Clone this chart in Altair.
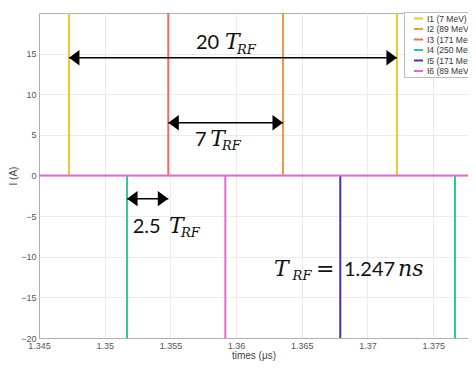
import altair as alt
import pandas as pd

# ---- data -------------------------------------------------------------
series_names = ["I1 (7 MeV)", "I2 (89 MeV)", "I3 (171 MeV)",
                "I4 (250 MeV)", "I5 (171 MeV)", "I6 (89 MeV)"]
series_colors = ["#EDC72F", "#EE9A45", "#E8705A", "#2FC6A2", "#4A2CC0", "#E867D8"]

spike_series = ["I1 (7 MeV)", "I3 (171 MeV)", "I2 (89 MeV)", "I1 (7 MeV)",
                "I4 (250 MeV)", "I6 (89 MeV)", "I5 (171 MeV)", "I4 (250 MeV)"]
spike_times = [1.34728, 1.35484, 1.36357, 1.37224, 1.35170, 1.35918, 1.36793, 1.37666]
spike_peaks = [20, 20, 20, 20, -20, -20, -20, -20]

baseline_series = ["I6 (89 MeV)"]
baseline_level = [0]

x_domain = [1.345, 1.37765]
y_domain = [-20, 20]
x_ticks = [1.345, 1.35, 1.355, 1.36, 1.365, 1.37, 1.375]
y_ticks = [-20, -15, -10, -5, 0, 5, 10, 15]

# double arrows (start time, end time, level)
arrow_start = [1.34728, 1.35484, 1.35170]
arrow_end = [1.37224, 1.36357, 1.35484]
arrow_level = [14.5, 6.5, -2.85]

# annotation pieces
num_text = ["20", "7", "2.5", "1.247"]
num_x = [1.356948, 1.356872, 1.352131, 1.368211]
num_y = [15.55, 3.57, -7.05, -12.42]

t_text = ["T", "T", "T", "T", "=", "ns"]
t_x = [1.359150, 1.358040, 1.354890, 1.362880, 1.366080, 1.372320]
t_y = [15.55, 3.57, -7.05, -12.42, -12.42, -12.42]

sub_text = ["RF", "RF", "RF", "RF"]
sub_x = [1.360068, 1.358930, 1.355807, 1.364300]
sub_y = [14.97, 3.16, -7.54, -12.83]

# ---- tables -----------------------------------------------------------
spikes = pd.DataFrame({"series": spike_series, "t": spike_times,
                       "lo": [0] * len(spike_times), "hi": spike_peaks})
base = pd.DataFrame({"series": baseline_series, "level": baseline_level})
arrows = pd.DataFrame({"x1": arrow_start, "x2": arrow_end, "y": arrow_level})
nums = pd.DataFrame({"x": num_x, "y": num_y, "txt": num_text})
ts = pd.DataFrame({"x": t_x, "y": t_y, "txt": t_text})
subs = pd.DataFrame({"x": sub_x, "y": sub_y, "txt": sub_text})

xscale = alt.Scale(domain=x_domain, nice=False, zero=False)
yscale = alt.Scale(domain=y_domain, nice=False, zero=False)
cscale = alt.Scale(domain=series_names, range=series_colors)

xaxis = alt.Axis(values=x_ticks, format="~g", title="times  (μs)", grid=True,
                 ticks=False, labelPadding=3, titlePadding=0, labelFlush=False)
yaxis = alt.Axis(values=y_ticks, title="I (A)", grid=True, ticks=False,
                 labelPadding=3, titlePadding=2)

legend = alt.Legend(orient="none", legendX=365, legendY=-1, title=None,
                    symbolType="stroke", symbolSize=81, symbolStrokeWidth=2,
                    labelFontSize=8.5, labelFont="Liberation Sans", labelColor="#333333",
                    fillColor="white", strokeColor="#bbbbbb", padding=1,
                    rowPadding=0.5, labelOffset=3, symbolOffset=8, labelLimit=200)

spike_layer = alt.Chart(spikes).mark_rule(strokeWidth=2).encode(
    x=alt.X("t:Q", scale=xscale, axis=xaxis),
    y=alt.Y("lo:Q", scale=yscale, axis=yaxis),
    y2="hi:Q",
    color=alt.Color("series:N", scale=cscale, legend=legend),
)

base_layer = alt.Chart(base).mark_rule(strokeWidth=2).encode(
    y=alt.Y("level:Q", scale=yscale),
    color=alt.Color("series:N", scale=cscale, legend=legend),
)

shaft = alt.Chart(arrows).mark_rule(color="black", strokeWidth=1.5).encode(
    x=alt.X("x1:Q", scale=xscale), x2="x2:Q", y=alt.Y("y:Q", scale=yscale))

left_head = alt.Chart(arrows).mark_point(
    filled=True, color="black", opacity=1, size=196,
    shape="M0,0 L1.5,-1.1 L1.5,1.1 Z").encode(
    x=alt.X("x1:Q", scale=xscale), y=alt.Y("y:Q", scale=yscale))

right_head = alt.Chart(arrows).mark_point(
    filled=True, color="black", opacity=1, size=196,
    shape="M0,0 L-1.5,-1.1 L-1.5,1.1 Z").encode(
    x=alt.X("x2:Q", scale=xscale), y=alt.Y("y:Q", scale=yscale))

num_layer = alt.Chart(nums).mark_text(
    align="left", baseline="alphabetic", font="Lato", fontSize=20, color="#111111").encode(
    x=alt.X("x:Q", scale=xscale), y=alt.Y("y:Q", scale=yscale), text="txt:N")

t_layer = alt.Chart(ts).mark_text(
    align="left", baseline="alphabetic", font="DejaVu Serif", fontStyle="italic",
    fontSize=22, color="#111111").encode(
    x=alt.X("x:Q", scale=xscale), y=alt.Y("y:Q", scale=yscale), text="txt:N")

sub_layer = alt.Chart(subs).mark_text(
    align="left", baseline="alphabetic", font="DejaVu Serif", fontStyle="italic",
    fontSize=13, color="#111111").encode(
    x=alt.X("x:Q", scale=xscale), y=alt.Y("y:Q", scale=yscale), text="txt:N")

chart = alt.layer(
    spike_layer, base_layer, shaft, left_head, right_head, num_layer, t_layer, sub_layer
).properties(
    width=429, height=325,
    autosize=alt.AutoSizeParams(type="none"),
    padding={"left": 31, "top": 5, "right": 0, "bottom": 23},
    background="white",
).configure_view(
    stroke="#b0b0b0", strokeWidth=1
).configure_axis(
    gridColor="#ececec", gridWidth=1, domainColor="#b0b0b0",
    labelFont="Liberation Sans", labelFontSize=9, labelColor="#555555",
    titleFont="Liberation Sans", titleFontSize=10, titleFontWeight="normal",
    titleColor="#444444",
)

chart.save("out.html", embed_options={"renderer": "svg", "actions": False})
